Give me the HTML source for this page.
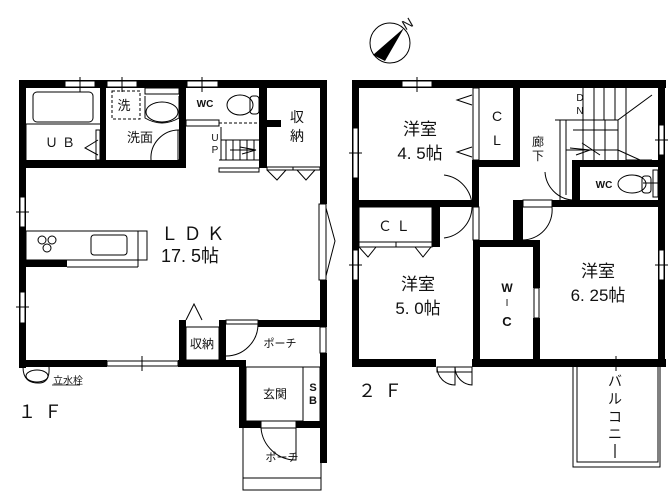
<!DOCTYPE html>
<html><head><meta charset="utf-8"><style>
html,body{margin:0;padding:0;background:#fff;}
svg{display:block;}
text{font-family:"Liberation Sans","Noto Sans CJK JP",sans-serif;fill:#111;}
</style></head><body>
<svg width="669" height="496" viewBox="0 0 669 496" xmlns="http://www.w3.org/2000/svg">
<g fill="#000">
<rect x="19" y="80" width="308" height="8"/>
<rect x="19" y="80" width="7" height="288"/>
<rect x="320" y="80" width="7" height="124"/>
<rect x="320" y="280" width="7" height="40"/>
<rect x="320" y="353" width="7" height="110"/>
<rect x="19" y="360" width="88" height="7"/>
<rect x="178" y="360" width="68" height="7"/>
<rect x="19" y="160" width="167" height="8"/>
<rect x="100" y="80" width="6" height="88"/>
<rect x="179" y="80" width="7" height="88"/>
<rect x="259" y="80" width="8" height="88"/>
<rect x="259" y="120" width="22" height="7"/>
<rect x="26" y="260" width="41" height="7"/>
<rect x="179" y="320" width="7" height="47"/>
<rect x="219" y="320" width="7" height="47"/>
<rect x="258" y="320" width="69" height="7"/>
<rect x="239" y="360" width="7" height="68"/>
<rect x="239" y="421" width="22" height="7"/>
<rect x="296" y="421" width="31" height="7"/>
<rect x="352" y="80" width="314" height="8"/>
<rect x="352" y="80" width="7" height="287"/>
<rect x="658" y="80" width="7" height="287"/>
<rect x="352" y="359" width="84" height="8"/>
<rect x="472" y="359" width="194" height="8"/>
<rect x="352" y="200" width="127" height="7"/>
<rect x="472" y="160" width="7" height="47"/>
<rect x="472" y="160" width="48" height="7"/>
<rect x="513" y="80" width="7" height="87"/>
<rect x="552" y="200" width="113" height="7"/>
<rect x="513" y="200" width="10" height="40"/>
<rect x="572" y="160" width="93" height="7"/>
<rect x="572" y="160" width="8" height="40"/>
<rect x="432" y="200" width="8" height="47"/>
<rect x="473" y="240" width="67" height="7"/>
<rect x="473" y="240" width="7" height="127"/>
<rect x="533" y="240" width="7" height="48"/>
<rect x="533" y="318" width="7" height="49"/>
</g>
<g fill="#fff" stroke="#000" stroke-width="1">
<rect x="65" y="81" width="30" height="6"/><rect x="107" y="81" width="30" height="6"/><rect x="187" y="81" width="31" height="6"/>
<rect x="145" y="88" width="34" height="6"/>
<rect x="20" y="197" width="5" height="30"/><rect x="20" y="292" width="5" height="31"/>
<rect x="319" y="204" width="7" height="76"/>
<rect x="107" y="361" width="71" height="5"/>
<rect x="320" y="327" width="6" height="26"/>
<rect x="402" y="81" width="30" height="6"/>
<rect x="353" y="128" width="5" height="50"/>
<rect x="659" y="125" width="5" height="30"/>
<rect x="653" y="170" width="5" height="27"/>
<rect x="353" y="250" width="5" height="30"/>
<rect x="659" y="250" width="5" height="30"/>
<rect x="534" y="288" width="5" height="30"/>
<rect x="473" y="88" width="6" height="72"/>
<rect x="473" y="207" width="6" height="33"/>
</g>
<g fill="none" stroke="#000" stroke-width="1">
<path d="M80 77V92M122 77V92M202 77V92M417 77V92M16 212H29M16 307H29M349 153H362M655 140H668M349 265H362M655 265H668M643 183H663M142 356V371"/>
<rect x="33" y="92" width="60" height="30" rx="4"/>
<path d="M26 124H100M26 160V124"/>
<rect x="96" y="130" width="4" height="30"/>
<path d="M98 140L85 148L98 155"/>
<rect x="112" y="91" width="28" height="28" stroke-dasharray="3,2"/>
<ellipse cx="162" cy="112" rx="16" ry="10"/>
<path d="M145 96V118Q162 128 179 118V96"/>
<path d="M179 130A28 28 0 0 0 151 160"/>
<rect x="178" y="130" width="3" height="30"/>
<ellipse cx="240" cy="105" rx="13" ry="10"/><rect x="250" y="96" width="9" height="18" rx="3"/>
<path d="M186 120H219M219 123H259" stroke-dasharray="3,2"/>
<rect x="186" y="120" width="33" height="6"/>
<path d="M221 127V160M221 140H259M226 140V160M233 140V160M240 140V160M247 140V160M254 140V160M219 160H259M219 168H259V172H219Z"/>
<path d="M240 147L256 150L242 154M230 150H256"/>
<path d="M267 167H320V170H267ZM293 167V170M267 170L277 180L286 170M297 170L306 180L315 170"/>
<rect x="26" y="231" width="121" height="29"/>
<path d="M138 231V267M67 267H138"/>
<rect x="91" y="235" width="36" height="20" rx="3"/>
<circle cx="42" cy="240" r="4"/><circle cx="52" cy="240" r="4"/><circle cx="47" cy="248" r="4"/>
<path d="M326 208L335 241L326 276"/>
<path d="M186 320L194 304L202 320"/>
<rect x="186" y="327" width="33" height="33"/>
<path d="M226 320H258V324H226ZM258 324A32 32 0 0 1 226 356"/>
<path d="M246 367H303V421H246ZM303 367H320V421"/>
<path d="M261 421H296V428H261ZM296 428V460A35 35 0 0 1 261 428"/>
<path d="M243 428V490H321V463M243 478H321"/>
<ellipse cx="37" cy="376" rx="11" ry="6"/><path d="M23 367Q23 384 40 383Q50 382 49 367"/>
<path d="M52 385H80" stroke-width="0.7"/>
<path d="M472 95L457 100L472 105M472 147L457 152L472 157"/>
<path d="M472 207A32 32 0 0 0 444 175M472 207A32 32 0 0 1 444 238"/>
<path d="M523 200H552V207H523ZM552 207A30 30 0 0 1 522 240"/>
<path d="M572 200A30 30 0 0 1 545 172"/>
<path d="M555 120H618V150H566V195M566 120V150M560 120V200"/>
<path d="M594 88V160M583 88V120M604 88V120M615 88V120M626 88V160H652M573 130H618M583 120V160M594 120V160M605 120V160M618 120V160M618 120L652 95M618 150L640 160"/>
<path d="M570 148L590 150L576 155M582 143L600 155"/>
<ellipse cx="632" cy="184" rx="14" ry="9"/><rect x="642" y="176" width="9" height="17" rx="3"/>
<rect x="359" y="207" width="73" height="35"/>
<path d="M359 242H432V247H359ZM396 242V247M359 247L368 257L376 247M415 247L423 257L431 247"/>
<path d="M437 367H455V372H437ZM455 372V385A18 18 0 0 1 437 367M455 367H472V372H455ZM472 372V385A18 18 0 0 1 455 367"/>
<rect x="573" y="360" width="87" height="107"/>
<rect x="577" y="362" width="81" height="100"/>
<path d="M573 364H658M616 356V371"/>
<circle cx="390" cy="43" r="20"/>
</g>
<path d="M404 28L373 55L385 61Z" fill="#000"/>
<text x="403" y="29" font-size="14" transform="rotate(-30 407 25)">N</text>
<g font-size="13" text-anchor="middle">
<text x="124" y="110" font-size="13">洗</text>
<text x="140" y="142" font-size="13">洗面</text>
<text x="62" y="147" font-size="13" letter-spacing="4">ＵＢ</text>
<text x="205" y="107" font-size="10" font-weight="bold">WC</text>
<text x="297" y="122" font-size="14">収</text><text x="297" y="141" font-size="14">納</text>
<text x="215" y="141" font-size="10">U</text><text x="215" y="153" font-size="10">P</text>
<text x="195" y="240" font-size="18" letter-spacing="5">ＬＤＫ</text>
<text x="190" y="262" font-size="18">17. 5帖</text>
<text x="202" y="348" font-size="12">収納</text>
<text x="280" y="347" font-size="11">ポーチ</text>
<text x="275" y="398" font-size="12">玄関</text>
<text x="313" y="391" font-size="11" font-weight="bold">S</text><text x="313" y="404" font-size="11" font-weight="bold">B</text>
<text x="282" y="461" font-size="11">ポーチ</text>
<text x="68" y="384" font-size="10" fill="#333">立水栓</text>
<text x="44" y="418" font-size="18" letter-spacing="8">１Ｆ</text>
<text x="420" y="135" font-size="17">洋室</text>
<text x="420" y="159" font-size="17">4. 5帖</text>
<text x="497" y="121" font-size="14">C</text><text x="497" y="145" font-size="14">L</text>
<text x="538" y="146" font-size="12">廊</text><text x="538" y="160" font-size="12">下</text>
<text x="580" y="101" font-size="10">D</text><text x="580" y="114" font-size="10">N</text>
<text x="604" y="188" font-size="10" font-weight="bold">WC</text>
<text x="396" y="231" font-size="14" letter-spacing="4">ＣＬ</text>
<text x="418" y="290" font-size="17">洋室</text>
<text x="418" y="314" font-size="17">5. 0帖</text>
<text x="507" y="292" font-size="12" font-weight="bold">W</text><text x="507" y="306" font-size="10">I</text><text x="507" y="326" font-size="13" font-weight="bold">C</text>
<text x="598" y="277" font-size="17">洋室</text>
<text x="598" y="301" font-size="17">6. 25帖</text>
<text x="384" y="397" font-size="18" letter-spacing="8">２Ｆ</text>
</g>
<g font-size="14" text-anchor="middle">
<text x="615" y="386">バ</text><text x="615" y="404">ル</text><text x="615" y="422">コ</text><text x="615" y="439">ニ</text>
</g>
<path d="M615 444V458" stroke="#111" stroke-width="1.2"/>
</svg>
</body></html>
